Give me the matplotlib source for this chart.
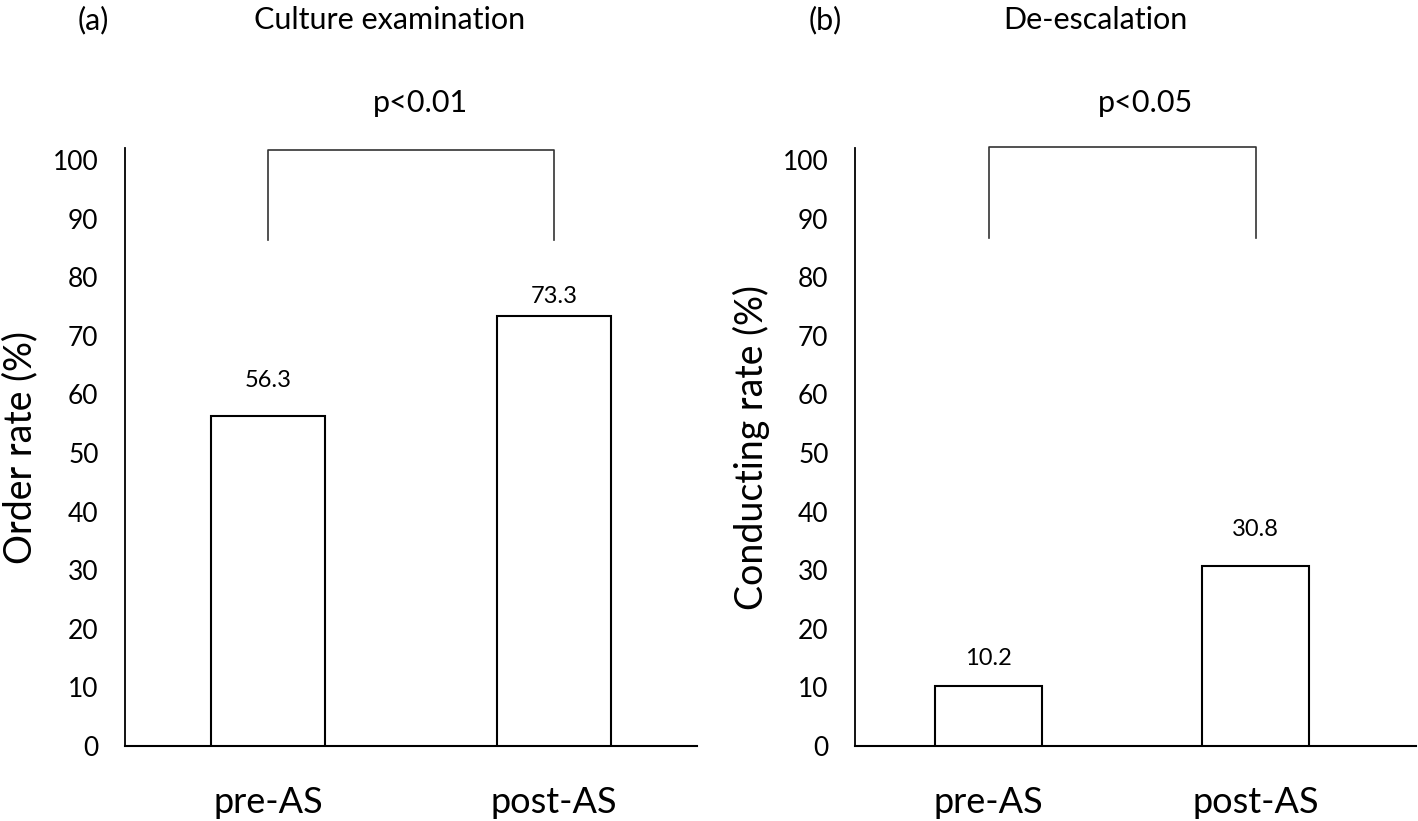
import matplotlib
matplotlib.use("Agg")
import matplotlib.pyplot as plt

plt.rcParams['font.family'] = ['Lato', 'DejaVu Sans']

categories = ["pre-AS", "post-AS"]
culture_values = [56.3, 73.3]
deesc_values = [10.2, 30.8]
yticks = [0, 10, 20, 30, 40, 50, 60, 70, 80, 90, 100]
panel_letters = ["(a)", "(b)"]
panel_titles = ["Culture examination", "De-escalation"]
pvalues = ["p<0.01", "p<0.05"]
ylabels = ["Order rate (%)", "Conducting rate (%)"]

fig = plt.figure(figsize=(14.18, 8.21), dpi=100)
W, H = 1418, 821

def px_axes(x0, x1, ybot, ytop):
    return fig.add_axes([x0 / W, 1 - ybot / H, (x1 - x0) / W, (ybot - ytop) / H])

ymax = 102.0
# pixel: baseline 746, 58.6 px per 10 units
top_px = 746 - ymax * 5.86
ax1 = px_axes(125, 697, 746, top_px)
ax2 = px_axes(855, 1416, 746, top_px)

label_offsets = [[36, 20], [28, 36]]  # px above bar top
bracket_bottoms = [86.3, 86.7]
bracket_tops = [101.7, 102.3]

for i, (ax, vals) in enumerate(zip([ax1, ax2], [culture_values, deesc_values])):
    x = list(range(len(categories)))
    ax.bar(x, vals, width=0.4, color="white", edgecolor="black", linewidth=1.5, zorder=3)
    ax.set_xlim(-0.5, 1.5 if i == 0 else 1.6)
    ax.set_ylim(0, ymax)
    ax.set_yticks(yticks)
    ax.set_yticklabels([str(t) for t in yticks], fontsize=19)
    ax.set_xticks(x)
    ax.set_xticklabels(categories, fontsize=26)
    ax.tick_params(axis='y', length=0, pad=19)
    ax.tick_params(axis='x', length=0, pad=29)
    for s in ["top", "right"]:
        ax.spines[s].set_visible(False)
    ax.spines["left"].set_linewidth(1.3)
    ax.spines["bottom"].set_linewidth(1.5)
    ax.set_ylabel(ylabels[i], fontsize=27)
    ax.yaxis.set_label_coords(-0.152, 0.5)
    for xi, v, off in zip(x, vals, label_offsets[i]):
        ax.annotate(f"{v:.1f}", (xi, v), xytext=(0, off * 0.72), textcoords="offset points",
                    ha="center", va="center", fontsize=17)
    ax.plot([x[0], x[0], x[1], x[1]],
            [bracket_bottoms[i], bracket_tops[i], bracket_tops[i], bracket_bottoms[i]],
            color="#333333", linewidth=1.2, clip_on=False)

# titles
fig.text(93 / W, 1 - 20 / H, panel_letters[0], ha="center", va="center", fontsize=22)
fig.text(390 / W, 1 - 20 / H, panel_titles[0], ha="center", va="center", fontsize=22)
fig.text(825 / W, 1 - 20 / H, panel_letters[1], ha="center", va="center", fontsize=22)
fig.text(1095 / W, 1 - 20 / H, panel_titles[1], ha="center", va="center", fontsize=22)
fig.text(420 / W, 1 - 103 / H, pvalues[0], ha="center", va="center", fontsize=22)
fig.text(1145 / W, 1 - 103 / H, pvalues[1], ha="center", va="center", fontsize=22)

fig.savefig("out.png", dpi=100)
